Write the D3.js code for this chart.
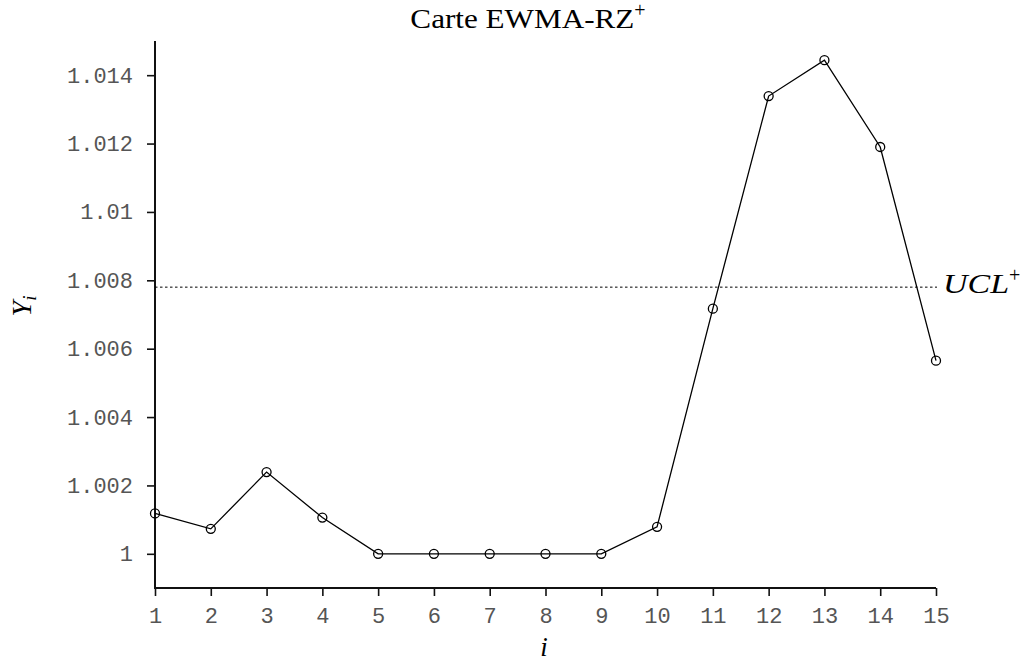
<!DOCTYPE html>
<html><head><meta charset="utf-8">
<script src="https://cdn.jsdelivr.net/npm/d3@7"></script>
<style>body{margin:0;background:#fff}</style>
</head><body>
<script>
const obs = [1,2,3,4,5,6,7,8,9,10,11,12,13,14,15];
const values = [1.00118,1.00073,1.00239,1.00106,1.0,1.0,1.0,1.0,1.0,1.00079,1.00717,1.01339,1.01444,1.0119,1.00565];
const ucl = 1.0078;
const yTicks = [1,1.002,1.004,1.006,1.008,1.01,1.012,1.014];
const yTickLabels = ["1","1.002","1.004","1.006","1.008","1.01","1.012","1.014"];

const W=1027,H=664;
const svg=d3.select("body").append("svg").attr("width",W).attr("height",H);
const x=d3.scaleLinear().domain([1,15]).range([155,936]);
const y=d3.scaleLinear().domain([0.999,1.015]).range([588,41]);

const mono="'Liberation Mono','Courier New',monospace";
const serif="'Liberation Serif','DejaVu Serif',serif";

const xa=svg.append("g").attr("transform","translate(0,588)")
 .call(d3.axisBottom(x).tickValues(obs).tickFormat(d3.format("d")).tickSizeOuter(0).tickSize(8).tickPadding(11));
const ya=svg.append("g").attr("transform","translate(155,0)")
 .call(d3.axisLeft(y).tickValues(yTicks).tickFormat((d,i)=>yTickLabels[i]).tickSizeOuter(0).tickSize(8).tickPadding(14));
[xa,ya].forEach(a=>{
 a.select(".domain").attr("stroke","#111").attr("stroke-width",2);
 a.selectAll(".tick line").attr("stroke","#111").attr("stroke-width",1.6);
 a.selectAll("text").attr("font-family",mono).attr("font-size",22).attr("fill","#555");
});
ya.select(".domain").attr("d",`M0,${y.range()[1]}V${y.range()[0]+1}`);
xa.select(".domain").attr("d",`M${x.range()[0]-1},0H${x.range()[1]}`);

svg.append("line").attr("x1",x(1)).attr("x2",x(15)+1).attr("y1",y(ucl)).attr("y2",y(ucl))
 .attr("stroke","#000").attr("stroke-width",1).attr("stroke-dasharray","2.5,2.5");

const line=d3.line().x((d,i)=>x(obs[i])).y(d=>y(d));
svg.append("path").datum(values).attr("d",line).attr("fill","none").attr("stroke","#000").attr("stroke-width",1.3);
svg.selectAll("circle.pt").data(values).enter().append("circle")
 .attr("cx",(d,i)=>x(obs[i])).attr("cy",d=>y(d)).attr("r",4.5)
 .attr("fill","none").attr("stroke","#000").attr("stroke-width",1.3);

// title
const t=svg.append("text").attr("x",528).attr("y",28).attr("text-anchor","middle")
 .attr("font-family",serif).attr("font-size",27).attr("fill","#000");
t.append("tspan").attr("textLength",224).attr("lengthAdjust","spacingAndGlyphs").text("Carte EWMA-RZ");
t.append("tspan").attr("dy",-11).attr("font-size",20).text("+");

// UCL label
const u=svg.append("text").attr("x",943).attr("y",293).attr("font-family",serif)
 .attr("font-style","italic").attr("font-size",28).attr("fill","#000");
u.append("tspan").attr("textLength",66).attr("lengthAdjust","spacingAndGlyphs").text("UCL");
u.append("tspan").attr("dy",-11).attr("font-size",20).attr("font-style","normal").text("+");

// y label
const yl=svg.append("text").attr("transform","translate(31,306) rotate(-90)").attr("text-anchor","middle")
 .attr("font-family",serif).attr("font-style","italic").attr("font-size",28).attr("fill","#000");
yl.append("tspan").text("Y");
yl.append("tspan").attr("dy",5).attr("font-size",19).text("i");

svg.append("text").attr("x",544).attr("y",656).attr("text-anchor","middle")
 .attr("font-family",serif).attr("font-style","italic").attr("font-size",27).text("i");
</script>
</body></html>
